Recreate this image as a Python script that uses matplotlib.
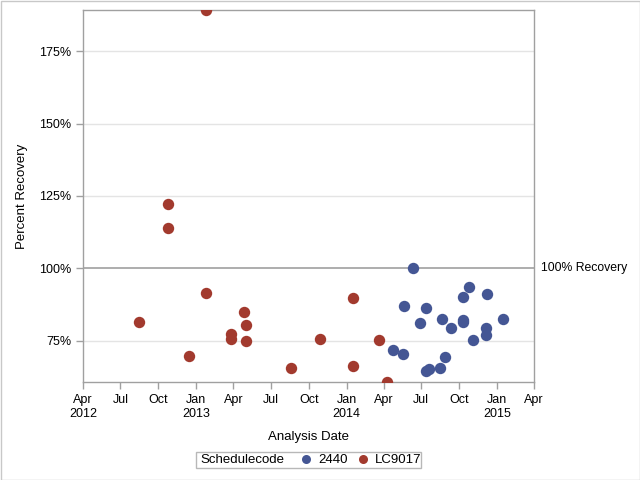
import matplotlib
matplotlib.use("Agg")
import matplotlib.pyplot as plt
from matplotlib.lines import Line2D
from matplotlib.patches import Rectangle
import numpy as np

plt.rcParams['font.family'] = ['Liberation Sans', 'DejaVu Sans']

# Data: schedule code 2440
dates_2440 = ["2014-04-24", "2014-05-18", "2014-05-20", "2014-06-11", "2014-06-28",
              "2014-07-12", "2014-07-12", "2014-07-21", "2014-08-16", "2014-08-21",
              "2014-08-28", "2014-09-11", "2014-10-10", "2014-10-10", "2014-10-10",
              "2014-10-25", "2014-11-03", "2014-12-06", "2014-12-06", "2014-12-07",
              "2015-01-15"]
rec_2440 = [71.9, 70.4, 87.0, 100.0, 81.2,
            86.3, 64.6, 65.3, 65.6, 82.6,
            69.5, 79.5, 90.1, 82.3, 81.5,
            93.6, 75.3, 79.5, 77.0, 91.3,
            82.6]

# Data: schedule code LC9017
dates_lc = ["2012-08-15", "2012-10-24", "2012-10-24", "2012-12-14", "2013-01-24",
            "2013-01-24", "2013-03-26", "2013-03-26", "2013-04-26", "2013-05-02",
            "2013-05-02", "2013-08-19", "2013-10-28", "2014-01-16", "2014-01-16",
            "2014-03-20", "2014-04-09"]
rec_lc = [81.5, 122.3, 114.0, 69.8, 91.5,
          189.2, 77.3, 75.6, 84.9, 80.5,
          74.8, 65.5, 75.6, 89.8, 66.3,
          75.3, 60.9]

series_names = ["2440", "LC9017"]
colors = ["#445694", "#A23A2E"]

xtick_dates = ["2012-04-01", "2012-07-01", "2012-10-01", "2013-01-01", "2013-04-01",
               "2013-07-01", "2013-10-01", "2014-01-01", "2014-04-01", "2014-07-01",
               "2014-10-01", "2015-01-01", "2015-04-01"]
xtick_labels = ["Apr\n2012", "Jul", "Oct", "Jan\n2013", "Apr", "Jul", "Oct",
                "Jan\n2014", "Apr", "Jul", "Oct", "Jan\n2015", "Apr"]
yticks = [75, 100, 125, 150, 175]
ytick_labels = ["75%", "100%", "125%", "150%", "175%"]

fig = plt.figure(figsize=(6.4, 4.8), dpi=100)
ax = fig.add_axes([83/640, 1-382/480, (534-83)/640, (382-10)/480])

d1 = np.array(dates_2440, dtype='datetime64[D]').astype('O')
d2 = np.array(dates_lc, dtype='datetime64[D]').astype('O')

for y in yticks:
    if y != 100:
        ax.axhline(y, color='#e4e4e4', lw=1, zorder=0)
ax.axhline(100, color='#a0a0a0', lw=1.2, zorder=1)

ax.plot(d1, rec_2440, 'o', color=colors[0], ms=8.2, mew=0, zorder=3, clip_on=True)
ax.plot(d2, rec_lc, 'o', color=colors[1], ms=8.2, mew=0, zorder=3, clip_on=True)

xt = np.array(xtick_dates, dtype='datetime64[D]').astype('O')
ax.set_xlim(xt[0], xt[-1])
ax.set_ylim(60.8, 189.2)
ax.set_xticks(xt)
ax.set_xticklabels(xtick_labels, fontsize=9)
ax.set_yticks(yticks)
ax.set_yticklabels(ytick_labels, fontsize=9)

for s in ax.spines.values():
    s.set_color('#a0a0a0')
    s.set_linewidth(1)
ax.tick_params(axis='both', colors='#a0a0a0', labelcolor='black', length=5, width=1)

ax.set_xlabel("Analysis Date", fontsize=9.5, labelpad=8)
ax.set_ylabel("Percent Recovery", fontsize=9.5, labelpad=8)

ax.text(1.015, 100, "100% Recovery", transform=ax.get_yaxis_transform(),
        va='center', ha='left', fontsize=8.8)

# Legend
fig.text(200/640, 1-460/480, "Schedulecode", fontsize=9.5, va='center', ha='left')
handles = [Line2D([], [], marker='o', linestyle='none', color=c, ms=6.5, mew=0) for c in colors]
leg = fig.legend(handles, series_names, loc='center left', bbox_to_anchor=(299.5/640, 1-460/480),
                 ncol=2, frameon=False, fontsize=9.5, handletextpad=0.41, columnspacing=0.64,
                 handlelength=1.0, borderpad=0, borderaxespad=0)
fig.patches.append(Rectangle((196/640, 1-468/480), (421-196)/640, 16/480,
                             transform=fig.transFigure, fill=False, edgecolor='#b8b8b8', lw=1))
fig.patches.append(Rectangle((0.5/640, 0.5/480), 639/640, 479/480,
                             transform=fig.transFigure, fill=False, edgecolor='#c8c8c8', lw=1))

fig.savefig("out.png", dpi=100)
